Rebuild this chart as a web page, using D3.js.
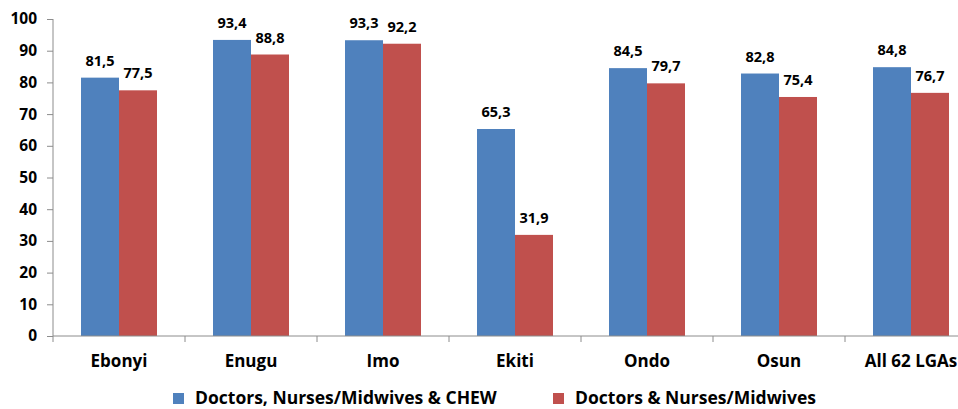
<!DOCTYPE html>
<html>
<head>
<meta charset="utf-8">
<script src="https://cdn.jsdelivr.net/npm/d3@7"></script>
<style>
  body { margin: 0; background: #fff; }
  svg text { font-family: "Open Sans", "DejaVu Sans", sans-serif; font-weight: 700; fill: #000; }
</style>
</head>
<body>
<svg id="chart" width="958" height="409"></svg>
<script>
const categories = ["Ebonyi", "Enugu", "Imo", "Ekiti", "Ondo", "Osun", "All 62 LGAs"];
const seriesNames = ["Doctors, Nurses/Midwives & CHEW", "Doctors & Nurses/Midwives"];
const withChew = [81.5, 93.4, 93.3, 65.3, 84.5, 82.8, 84.8];
const withoutChew = [77.5, 88.8, 92.2, 31.9, 79.7, 75.4, 76.7];
const yTicks = [0, 10, 20, 30, 40, 50, 60, 70, 80, 90, 100];
const colors = ["#4F81BD", "#C0504D"];

const width = 958, height = 409;
const marginLeft = 53, marginTop = 19, plotBottom = 336;
const plotRight = 977; // plot runs past the right edge in the original

const svg = d3.select("#chart");

const x = d3.scaleBand(categories, [marginLeft, plotRight]);
const xInner = d3.scaleBand([0, 1], [0, 76]);
const y = d3.scaleLinear([0, 100], [plotBottom, marginTop]);

const data = categories.map((c, i) => ({ cat: c, values: [withChew[i], withoutChew[i]] }));

// y axis
const yAxis = svg.append("g")
    .attr("transform", `translate(${marginLeft},0)`)
    .call(d3.axisLeft(y).tickValues(yTicks).tickSize(6).tickPadding(10).tickFormat(d3.format("d")));
yAxis.selectAll("path, line").attr("stroke", "#8c8c8c");
yAxis.select(".domain").attr("d", `M0,${y(100)}V${plotBottom}`);
yAxis.selectAll("text").attr("font-size", 15.5).style("font-family", "'Open Sans', sans-serif").style("font-weight", 700).attr("fill", "#000");

// bars
const groups = svg.append("g").selectAll("g")
    .data(data)
    .join("g")
    .attr("transform", d => `translate(${x(d.cat) + x.bandwidth() / 2 - 38},0)`);

groups.selectAll("rect")
    .data(d => d.values.map((v, k) => ({ v, k })))
    .join("rect")
    .attr("x", d => xInner(d.k))
    .attr("width", xInner.bandwidth())
    .attr("y", d => y(d.v))
    .attr("height", d => plotBottom - y(d.v))
    .attr("fill", d => colors[d.k]);

groups.selectAll("text.val")
    .data(d => d.values.map((v, k) => ({ v, k })))
    .join("text")
    .attr("class", "val")
    .attr("x", d => xInner(d.k) + xInner.bandwidth() / 2)
    .attr("y", d => y(d.v) - 12)
    .attr("text-anchor", "middle")
    .attr("font-size", 14.5)
    .text(d => d.v.toFixed(1).replace(".", ","));

// x axis
const xAxis = svg.append("g")
    .attr("transform", `translate(0,${plotBottom})`);
xAxis.append("line")
    .attr("x1", marginLeft).attr("x2", width)
    .attr("stroke", "#8c8c8c");
xAxis.selectAll("line.tick")
    .data(categories.map(c => x(c)))
    .join("line")
    .attr("class", "tick")
    .attr("x1", d => d).attr("x2", d => d)
    .attr("y1", 0).attr("y2", 6)
    .attr("stroke", "#8c8c8c");
xAxis.selectAll("text")
    .data(categories)
    .join("text")
    .attr("x", d => x(d) + x.bandwidth() / 2)
    .attr("y", 31)
    .attr("text-anchor", "middle")
    .attr("font-size", 17)
    .text(d => d);

// legend
const legendX = [173, 553];
const legend = svg.append("g").selectAll("g")
    .data(seriesNames)
    .join("g")
    .attr("transform", (d, i) => `translate(${legendX[i]},393)`);
legend.append("rect")
    .attr("width", 11).attr("height", 11)
    .attr("fill", (d, i) => colors[i]);
legend.append("text")
    .attr("x", 22).attr("y", 11)
    .attr("font-size", 17.5)
    .text(d => d);
</script>
</body>
</html>
